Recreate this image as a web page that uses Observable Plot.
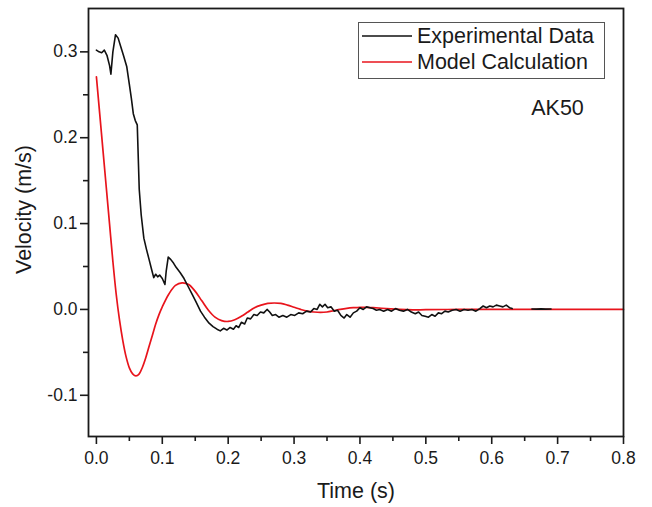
<!DOCTYPE html>
<html>
<head>
<meta charset="utf-8">
<script src="https://cdn.jsdelivr.net/npm/d3@7"></script>
<script src="https://cdn.jsdelivr.net/npm/@observablehq/plot@0.6"></script>
<style>
  html, body { margin: 0; padding: 0; background: #fff; }
  #wrap { position: relative; width: 652px; height: 507px; font-family: "Liberation Sans", Arial, sans-serif; }
  #legend { position: absolute; left: 358px; top: 22px; width: 245px; height: 55px; border: 1px solid #555; background: #fff; }
  .row { position: absolute; left: 0; height: 24px; display: flex; align-items: center; font-size: 21.5px; color: #1a1a1a; white-space: nowrap; }
  .row svg { margin-left: 3px; margin-right: 5px; }
</style>
</head>
<body>
<div id="wrap"></div>
<script>
// ---- Data ----
const seriesNames = ["Experimental Data", "Model Calculation"];
const seriesColors = ["#111111", "#e8141c"];

const expTime = [0, 0.004, 0.008, 0.012, 0.016, 0.020, 0.022, 0.025, 0.029, 0.033, 0.037, 0.041, 0.046, 0.050, 0.053, 0.056, 0.059, 0.062, 0.063, 0.065, 0.068, 0.072, 0.076, 0.080, 0.084, 0.087, 0.090, 0.093, 0.096, 0.100, 0.104, 0.106, 0.109, 0.113, 0.117, 0.121, 0.127, 0.133, 0.139, 0.145, 0.151, 0.158, 0.164, 0.171, 0.177, 0.183, 0.188, 0.193, 0.198, 0.203, 0.208, 0.212, 0.216, 0.220, 0.225, 0.229, 0.234, 0.239, 0.244, 0.249, 0.254, 0.259, 0.263, 0.267, 0.272, 0.277, 0.283, 0.289, 0.295, 0.301, 0.307, 0.313, 0.319, 0.325, 0.330, 0.335, 0.339, 0.343, 0.347, 0.351, 0.356, 0.361, 0.366, 0.371, 0.376, 0.380, 0.385, 0.390, 0.395, 0.400, 0.405, 0.410, 0.415, 0.420, 0.425, 0.430, 0.436, 0.442, 0.448, 0.454, 0.460, 0.466, 0.472, 0.478, 0.484, 0.489, 0.494, 0.499, 0.504, 0.509, 0.514, 0.519, 0.524, 0.529, 0.534, 0.540, 0.546, 0.552, 0.558, 0.564, 0.570, 0.576, 0.582, 0.587, 0.592, 0.597, 0.602, 0.607, 0.612, 0.617, 0.622, 0.627, 0.631, 0.646, 0.661, 0.668, 0.675, 0.682, 0.690];
const expVelocity = [0.302, 0.300, 0.299, 0.302, 0.296, 0.284, 0.274, 0.300, 0.320, 0.316, 0.306, 0.296, 0.283, 0.262, 0.246, 0.228, 0.220, 0.215, 0.190, 0.140, 0.110, 0.083, 0.070, 0.058, 0.046, 0.037, 0.041, 0.038, 0.040, 0.036, 0.029, 0.045, 0.061, 0.058, 0.054, 0.049, 0.043, 0.036, 0.027, 0.018, 0.009, -0.002, -0.009, -0.016, -0.020, -0.023, -0.025, -0.022, -0.024, -0.021, -0.023, -0.019, -0.021, -0.015, -0.017, -0.010, -0.011, -0.006, -0.007, -0.003, -0.004, 0.000, -0.003, -0.007, -0.006, -0.009, -0.007, -0.009, -0.006, -0.007, -0.004, -0.005, -0.002, -0.003, 0.001, 0.000, 0.006, 0.003, 0.006, 0.002, 0.003, -0.002, -0.001, -0.007, -0.010, -0.006, -0.009, -0.004, -0.002, 0.002, 0.000, 0.003, 0.002, 0.001, -0.001, 0.000, -0.002, 0.000, -0.002, 0.001, -0.001, -0.002, 0.000, -0.003, -0.005, -0.003, -0.007, -0.008, -0.009, -0.006, -0.008, -0.004, -0.005, -0.002, -0.003, -0.001, 0.000, -0.002, 0.000, -0.001, 0.000, -0.002, 0.001, 0.004, 0.002, 0.004, 0.003, 0.005, 0.004, 0.003, 0.005, 0.002, 0.001, null, 0.0005, 0.0003, 0.0006, 0.0004, 0.0005];

const modelTime = [0, 0.005, 0.010, 0.015, 0.020, 0.025, 0.030, 0.035, 0.040, 0.045, 0.050, 0.055, 0.060, 0.065, 0.070, 0.075, 0.080, 0.085, 0.090, 0.095, 0.100, 0.110, 0.120, 0.130, 0.140, 0.150, 0.160, 0.170, 0.180, 0.190, 0.200, 0.210, 0.220, 0.230, 0.240, 0.250, 0.260, 0.270, 0.280, 0.290, 0.300, 0.310, 0.320, 0.330, 0.340, 0.350, 0.360, 0.370, 0.380, 0.390, 0.400, 0.410, 0.420, 0.440, 0.460, 0.480, 0.500, 0.550, 0.600, 0.700, 0.800];
const modelVelocity = [0.271, 0.228, 0.185, 0.142, 0.099, 0.056, 0.018, -0.012, -0.036, -0.055, -0.068, -0.075, -0.0775, -0.075, -0.067, -0.056, -0.043, -0.030, -0.017, -0.006, 0.003, 0.018, 0.028, 0.031, 0.029, 0.021, 0.010, -0.001, -0.009, -0.013, -0.014, -0.012, -0.008, -0.003, 0.002, 0.005, 0.007, 0.0075, 0.007, 0.005, 0.0025, 0.000, -0.002, -0.003, -0.0035, -0.003, -0.0015, 0.000, 0.0012, 0.002, 0.0025, 0.0025, 0.002, 0.001, 0.000, -0.0005, -0.0003, 0.000, 0.000, 0.000, 0.000];

const xMajorTicks = [0, 0.1, 0.2, 0.3, 0.4, 0.5, 0.6, 0.7, 0.8];
const xMinorTicks = [0.05, 0.15, 0.25, 0.35, 0.45, 0.55, 0.65, 0.75];
const yMajorTicks = [-0.1, 0.0, 0.1, 0.2, 0.3];
const yMinorTicks = [-0.05, 0.05, 0.15, 0.25];

const xLabel = "Time (s)";
const yLabel = "Velocity (m/s)";
const annotation = "AK50";

// ---- Build tables ----
const expData = expTime.map((t, i) => ({t, v: expVelocity[i]}));
const modelData = modelTime.map((t, i) => ({t, v: modelVelocity[i]}));
const fmt = d3.formatLocale({decimal: ".", thousands: ",", grouping: [3], currency: ["", ""], minus: "-"}).format(".1f");

const ink = "#1a1a1a";
const chart = Plot.plot({
  width: 652,
  height: 507,
  marginLeft: 88,
  marginRight: 29,
  marginTop: 8,
  marginBottom: 71,
  style: {fontFamily: "'Liberation Sans', Arial, sans-serif", fontSize: "17.5px", color: ink, background: "#fff"},
  x: {domain: [-0.012, 0.8]},
  y: {domain: [-0.148, 0.3505]},
  marks: [
    Plot.line(modelData, {x: "t", y: "v", stroke: seriesColors[1], strokeWidth: 1.7, curve: "catmull-rom"}),
    Plot.line(expData, {x: "t", y: "v", stroke: seriesColors[0], strokeWidth: 1.6, defined: d => d.v != null}),
    Plot.frame({stroke: ink, strokeWidth: 1.8}),
    Plot.axisX(xMajorTicks, {tickSize: 8, tickPadding: 7, tickFormat: fmt, label: null, strokeWidth: 1.6, fontSize: 17.5}),
    Plot.axisX(xMinorTicks, {tickSize: 5, tickFormat: () => "", label: null, strokeWidth: 1.6}),
    Plot.axisY(yMajorTicks, {tickSize: 8, tickPadding: 3, tickFormat: fmt, label: null, strokeWidth: 1.6, fontSize: 17.5}),
    Plot.axisY(yMinorTicks, {tickSize: 5, tickFormat: () => "", label: null, strokeWidth: 1.6}),
    Plot.text([xLabel], {frameAnchor: "bottom", textAnchor: "middle", lineAnchor: "middle", dy: 55, fontSize: 21.5, fill: ink}),
    Plot.text([yLabel], {frameAnchor: "left", textAnchor: "middle", lineAnchor: "middle", dx: -64, dy: -13, rotate: -90, fontSize: 21.5, fill: ink}),
    Plot.text([annotation], {frameAnchor: "top-right", textAnchor: "middle", lineAnchor: "middle", dx: -66, dy: 99.5, fontSize: 21.5, fill: ink})
  ]
});

const wrap = document.getElementById("wrap");
wrap.appendChild(chart);

// Legend overlay
const legend = document.createElement("div");
legend.id = "legend";
seriesNames.forEach((name, i) => {
  const row = document.createElement("div");
  row.className = "row";
  row.style.top = (i === 0 ? 1 : 27) + "px";
  row.innerHTML = `<svg width="50" height="4"><line x1="0" x2="50" y1="2" y2="2" stroke="${seriesColors[i]}" stroke-width="1.6"/></svg><span>${name}</span>`;
  legend.appendChild(row);
});
wrap.appendChild(legend);
</script>
</body>
</html>
